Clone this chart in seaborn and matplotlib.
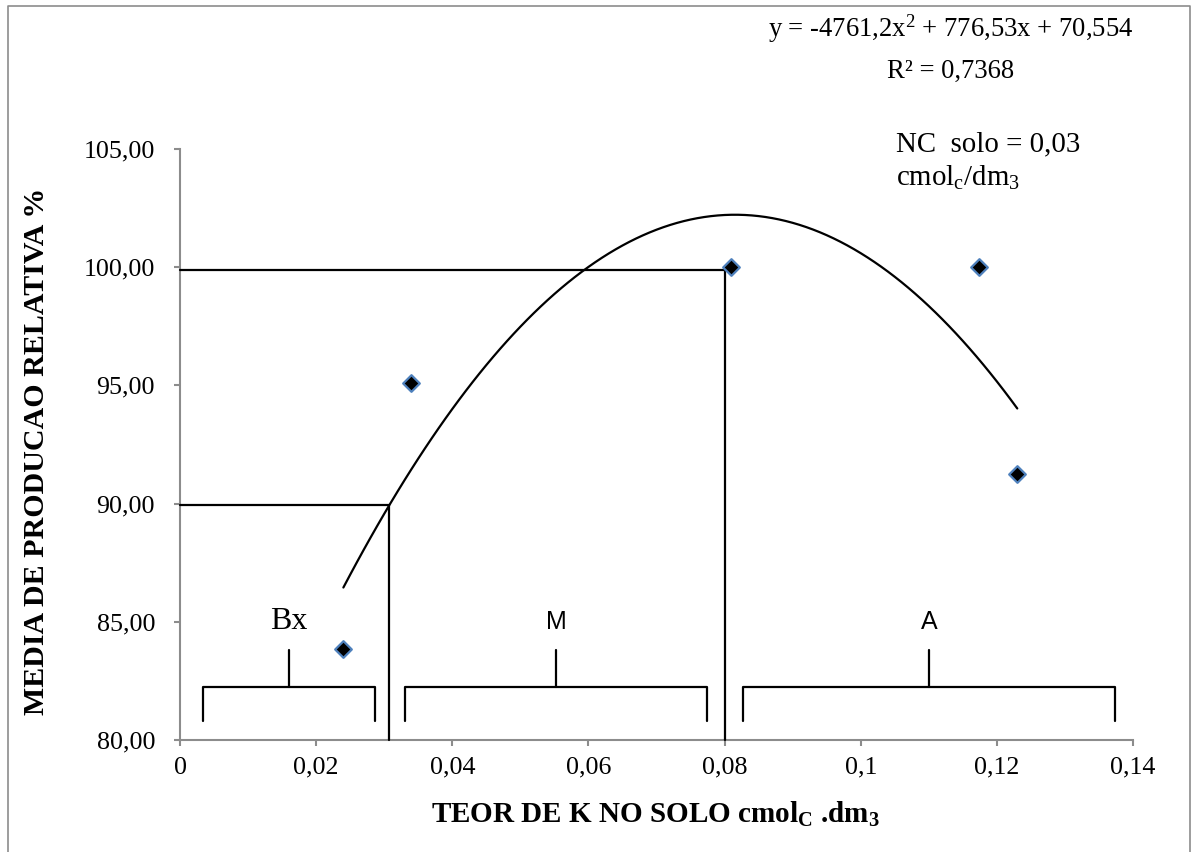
import numpy as np
import pandas as pd
import matplotlib
matplotlib.use("Agg")
import matplotlib.pyplot as plt
import seaborn as sns
from matplotlib.lines import Line2D

# ---------------- data ----------------
k_solo = [0.0240, 0.0339, 0.0810, 0.1174, 0.1230]
producao_relativa = [83.84, 95.11, 100.00, 100.00, 91.24]

x_ticks = [0, 0.02, 0.04, 0.06, 0.08, 0.10, 0.12, 0.14]
x_tick_labels = ["0", "0,02", "0,04", "0,06", "0,08", "0,1", "0,12", "0,14"]
y_ticks = [80, 85, 90, 95, 100, 105]
y_tick_labels = ["80,00", "85,00", "90,00", "95,00", "100,00", "105,00"]

# critical-level guide lines (x, y)
guide_x = [0.0307, 0.0800]
guide_y = [89.93, 99.90]

# interpretation zones
zone_labels = ["Bx", "M", "A"]
zone_start = [0.0034, 0.0331, 0.0827]
zone_end = [0.0286, 0.0774, 0.1374]
zone_fonts = ["Liberation Serif", "Liberation Sans", "Liberation Sans"]
zone_sizes = [23, 18, 18]

equation_text = r"y = -4761,2x$^\mathregular{2}$ + 776,53x + 70,554"
r2_text = "R² = 0,7368"
nc_text_1 = "NC  solo = 0,03"
nc_text_2 = r"cmol$_\mathregular{c}$/dm$_\mathregular{3}$"
x_label = r"TEOR DE K NO SOLO cmol$_\mathregular{C}$ .dm$_\mathregular{3}$"
y_label = "MEDIA DE PRODUCAO RELATIVA %"

# ---------------- style ----------------
sns.set_theme(style="white")
plt.rcParams["font.family"] = ["Liberation Serif", "DejaVu Serif"]
plt.rcParams["mathtext.fontset"] = "custom"
plt.rcParams["mathtext.rm"] = "Liberation Serif"
plt.rcParams["mathtext.it"] = "Liberation Serif:italic"
plt.rcParams["mathtext.bf"] = "Liberation Serif:bold"

W, H = 1191, 852
fig = plt.figure(figsize=(W / 100, H / 100), dpi=100)
fig.patch.set_facecolor("white")
ax = fig.add_axes([180 / W, 1 - 740 / H, 953 / W, 591 / H])

df = pd.DataFrame({"k": k_solo, "p": producao_relativa})

# quadratic trend line fitted by seaborn
sns.regplot(data=df, x="k", y="p", order=2, ci=None, scatter=False,
            truncate=True, color="black", line_kws=dict(lw=1.6), ax=ax)

# guide lines
for gx, gy in zip(guide_x, guide_y):
    ax.plot([0, gx, gx], [gy, gy, 80], color="black", lw=1.6, zorder=3,
            clip_on=False)

# zone brackets
br_low, br_top, stem_top, lab_y = 80.8, 82.26, 83.8, 85.0
for lab, s, e, fnt, fs in zip(zone_labels, zone_start, zone_end, zone_fonts, zone_sizes):
    c = (s + e) / 2
    ax.plot([s, s, e, e], [br_low, br_top, br_top, br_low], color="black", lw=1.6)
    ax.plot([c, c], [br_top, stem_top], color="black", lw=1.6)
    ax.text(c, lab_y, lab, ha="center", va="center", fontsize=fs,
            family=fnt, color="black")

# data points
sns.scatterplot(data=df, x="k", y="p", marker="D", s=72, color="black",
                edgecolor="#4f81bd", linewidth=1.6, ax=ax, zorder=6)

# axes
ax.set_xlim(0, 0.14)
ax.set_ylim(80, 105)
ax.set_xticks(x_ticks)
ax.set_xticklabels(x_tick_labels)
ax.set_yticks(y_ticks)
ax.set_yticklabels(y_tick_labels)
for side in ["top", "right"]:
    ax.spines[side].set_visible(False)
for side in ["left", "bottom"]:
    ax.spines[side].set_color("#8c8c8c")
    ax.spines[side].set_linewidth(1.5)
ax.tick_params(axis="both", direction="out", length=4, width=1.5,
               color="#8c8c8c", labelsize=18.7, labelcolor="black",
               bottom=True, left=True)
ax.tick_params(axis="x", pad=8)
ax.tick_params(axis="y", pad=14)
ax.grid(False)

ax.set_xlabel(x_label, fontsize=21, fontweight="bold", color="black")
ax.xaxis.label.set_va("baseline")
ax.xaxis.set_label_coords((656 - 180) / 953, -(823 - 740) / 591)
ax.set_ylabel(y_label, fontsize=21.6, fontweight="bold", color="black")
ax.yaxis.label.set_va("center")
ax.yaxis.set_label_coords((37 - 180) / 953, (740 - 451) / 591)

# annotations
fig.text(951 / W, 1 - 37 / H, equation_text, ha="center", va="baseline",
         fontsize=19.2, color="black")
fig.text(951 / W, 1 - 78 / H, r2_text, ha="center", va="baseline",
         fontsize=19.2, color="black")
fig.text(896 / W, 1 - 151 / H, nc_text_1, ha="left", va="baseline",
         fontsize=20.8, color="black")
fig.text(896 / W, 1 - 186 / H, nc_text_2, ha="left", va="baseline",
         fontsize=20.8, color="black")

# figure frame
fig.add_artist(Line2D([8 / W, 8 / W, 1189.5 / W, 1189.5 / W],
                      [0, 1 - 6 / H, 1 - 6 / H, 0],
                      transform=fig.transFigure, color="#8c8c8c", lw=1.2))

fig.savefig("out.png", dpi=100, facecolor="white")
